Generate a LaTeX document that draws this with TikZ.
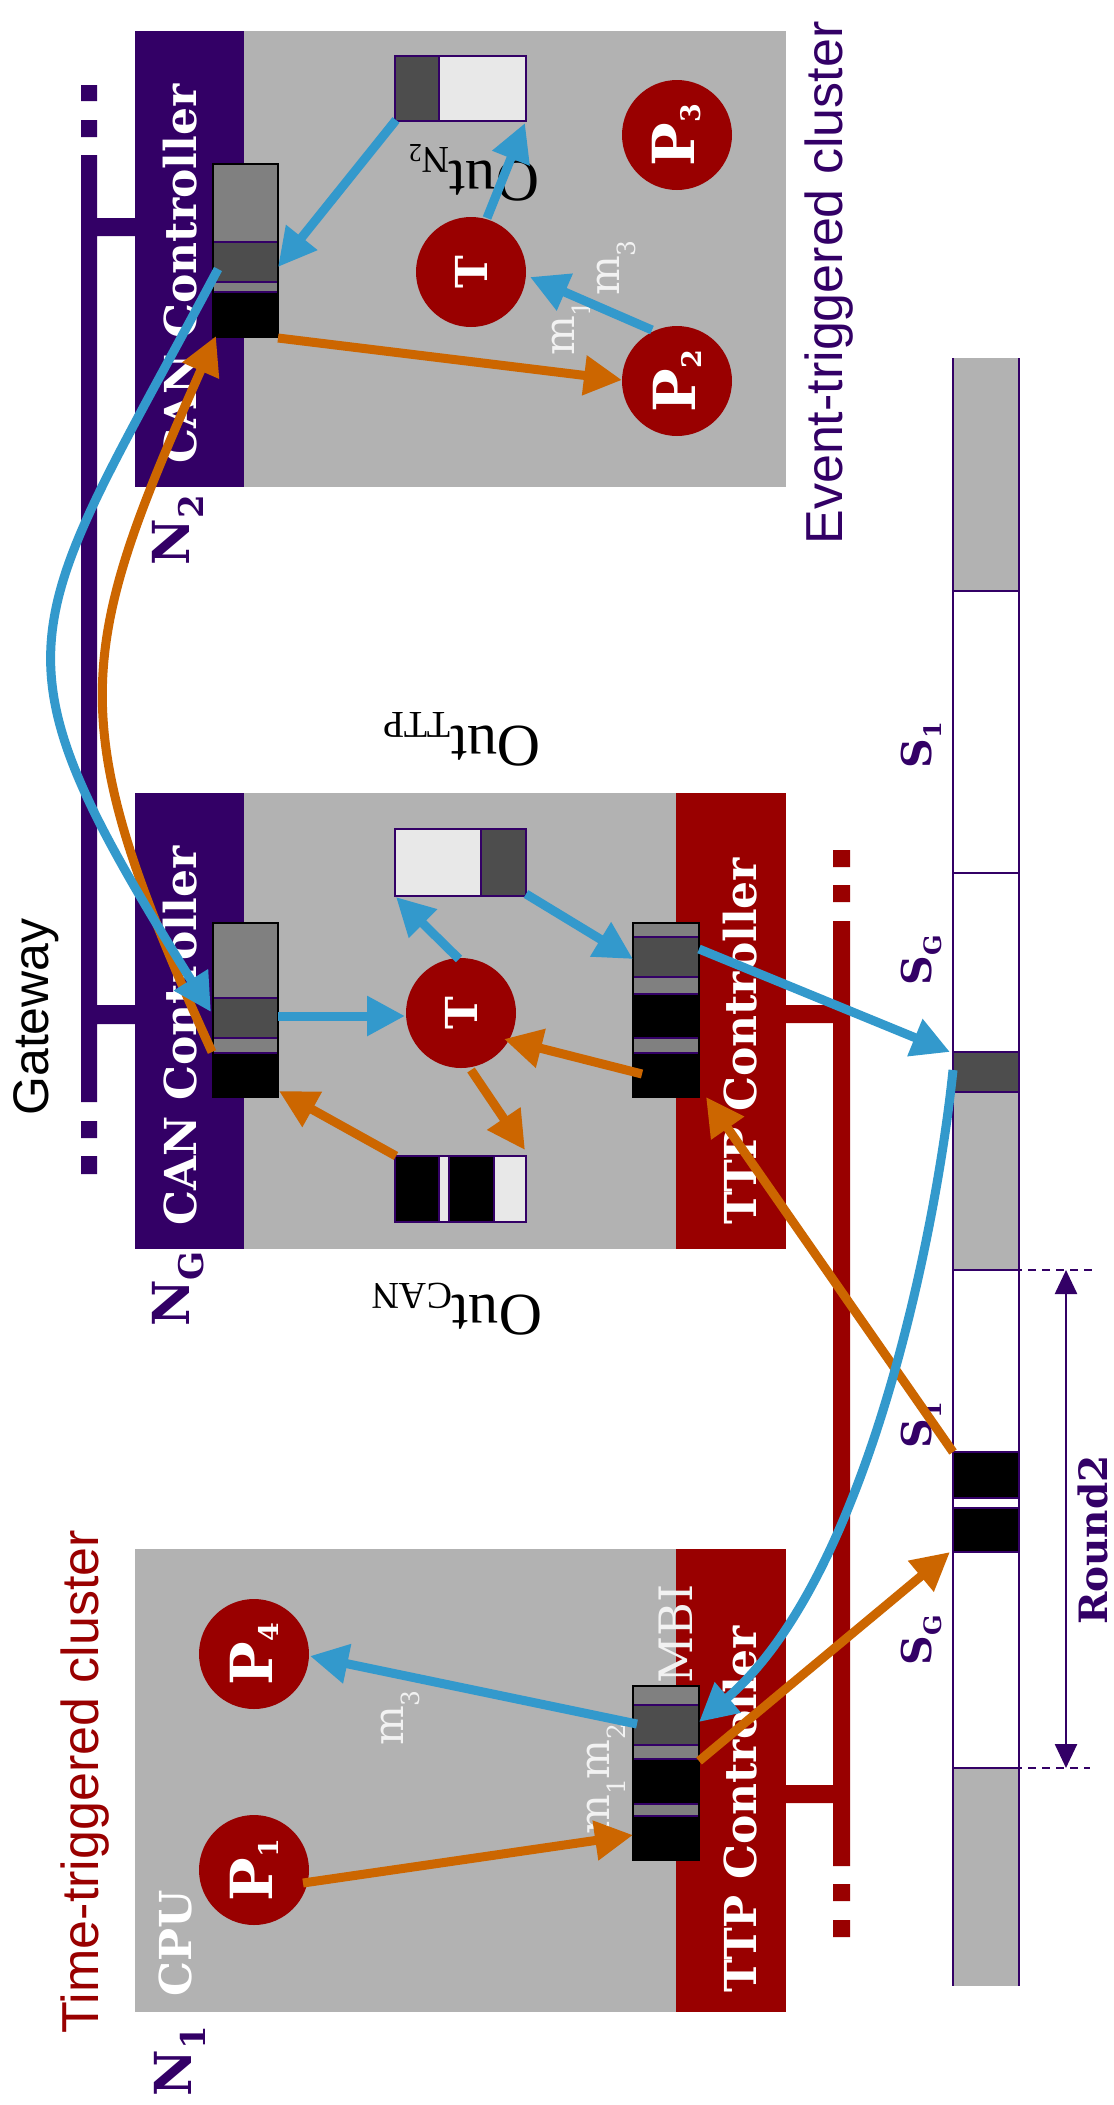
\documentclass[tikz,border=0pt]{standalone}
\usepackage{fontspec}
\setmainfont{DejaVu Serif}
\newfontfamily\lsans{Liberation Sans}
\newfontfamily\lserif{Liberation Serif}
\usetikzlibrary{arrows.meta}
\definecolor{pur}{HTML}{330066}
\definecolor{dred}{HTML}{990000}
\definecolor{ngray}{HTML}{B2B2B2}
\definecolor{ablue}{HTML}{3399CC}
\definecolor{aorange}{HTML}{CC6600}
\definecolor{mgray}{HTML}{808080}
\definecolor{dgray}{HTML}{4D4D4D}
\definecolor{lgray}{HTML}{E8E8E8}
\definecolor{wlab}{HTML}{F2F2F2}
\newcommand\fs[1]{\fontsize{#1}{#1}\selectfont}
\newcommand\lsub[3]{\raisebox{-#2pt}{\fs{#3}#1}}
\tikzset{
 ctrl/.style={rotate=90, text=white, font=\bfseries\fs{44}, inner sep=0pt},
 proc/.style={circle, fill=dred, minimum size=110pt, inner sep=0pt, text=white, rotate=90, font=\bfseries\fs{58}},
 tproc/.style={proc, font=\bfseries\fs{44}},
 nlab/.style={rotate=90, text=pur, font=\bfseries\fs{51}, inner sep=0pt},
 slab/.style={rotate=90, text=pur, font=\bfseries\fs{41}, inner sep=0pt},
 clus/.style={rotate=90, font=\lsans\fs{52}, inner sep=0pt},
 outlab/.style={rotate=180, font=\lserif\fs{60}, inner sep=0pt},
 mlab/.style={rotate=90, text=wlab, font=\fs{42}, inner sep=0pt},
 barrow/.style={draw=ablue, line width=9pt, -{Triangle[length=38pt,width=38pt]}},
 oarrow/.style={draw=aorange, line width=9pt, -{Triangle[length=38pt,width=38pt]}},
 segbox/.style={draw=pur, line width=1.5pt},
 outer/.style={draw=black, line width=2pt},
 sline/.style={draw=pur, line width=2pt},
}
\begin{document}
\begin{tikzpicture}[x=1pt,y=-1pt]
\useasboundingbox (0,0) rectangle (1114,2105);
\fill[white] (0,0) rectangle (1114,2105);

% ---------- buses ----------
\fill[pur] (81,85) rectangle (97,101) (81,120) rectangle (97,137) (81,155) rectangle (97,1102)
  (81,1121) rectangle (97,1138) (81,1156) rectangle (97,1174)
  (97,218) rectangle (135,236) (97,1005) rectangle (135,1024);
\fill[dred] (833,850) rectangle (850,867) (833,885) rectangle (850,902) (833,921) rectangle (850,1866)
  (833,1884) rectangle (850,1901) (833,1920) rectangle (850,1937)
  (786,1005) rectangle (833,1023) (786,1785) rectangle (833,1803);

% ---------- node N2 ----------
\node[fill=ngray, inner sep=0pt, minimum width=651pt, minimum height=456pt, anchor=north west] (N2box) at (135,31) {};
\fill[pur] (135,31) rectangle (244,487);
% ---------- node NG ----------
\node[fill=ngray, inner sep=0pt, minimum width=651pt, minimum height=456pt, anchor=north west] (NGbox) at (135,793) {};
\fill[pur] (135,793) rectangle (244,1249);
\fill[dred] (676,793) rectangle (786,1249);
% ---------- node N1 ----------
\node[fill=ngray, inner sep=0pt, minimum width=651pt, minimum height=463pt, anchor=north west] (N1box) at (135,1549) {};
\fill[dred] (676,1549) rectangle (786,2012);

% ---------- controller labels ----------
\node[ctrl] (can2) at (180,274) {CAN Controller};
\node[ctrl] (cang) at (180,1036) {CAN Controller};
\node[ctrl] (ttpg) at (740,1041) {TTP Controller};
\node[ctrl] (ttp1) at (740,1809) {TTP Controller};
\node[ctrl] (cpu) at (175,1943) {CPU};
\node[rotate=90, text=wlab, font=\fs{46}, inner sep=0pt] (mbi) at (676,1634) {MBI};

% ---------- buffers ----------
% N2 CAN buffer
\draw[segbox, fill=mgray] (213,164) rectangle (278,242);
\draw[segbox, fill=dgray] (213,242) rectangle (278,282);
\draw[segbox, fill=mgray] (213,282) rectangle (278,292);
\draw[segbox, fill=black] (213,292) rectangle (278,337);
\draw[outer] (213,164) rectangle (278,337);
% NG CAN buffer
\draw[segbox, fill=mgray] (213,923) rectangle (278,998);
\draw[segbox, fill=dgray] (213,998) rectangle (278,1038);
\draw[segbox, fill=mgray] (213,1038) rectangle (278,1053);
\draw[segbox, fill=black] (213,1053) rectangle (278,1097);
\draw[outer] (213,923) rectangle (278,1097);
% NG TTP buffer
\draw[segbox, fill=mgray] (633,923) rectangle (699,937);
\draw[segbox, fill=dgray] (633,937) rectangle (699,977);
\draw[segbox, fill=mgray] (633,977) rectangle (699,994);
\draw[segbox, fill=black] (633,994) rectangle (699,1038);
\draw[segbox, fill=mgray] (633,1038) rectangle (699,1053);
\draw[segbox, fill=black] (633,1053) rectangle (699,1097);
\draw[outer] (633,923) rectangle (699,1097);
% MBI buffer
\draw[segbox, fill=mgray] (633,1686) rectangle (699,1705);
\draw[segbox, fill=dgray] (633,1705) rectangle (699,1745);
\draw[segbox, fill=mgray] (633,1745) rectangle (699,1759);
\draw[segbox, fill=black] (633,1759) rectangle (699,1804);
\draw[segbox, fill=mgray] (633,1804) rectangle (699,1816);
\draw[segbox, fill=black] (633,1816) rectangle (699,1860);
\draw[outer] (633,1686) rectangle (699,1860);

% ---------- out boxes ----------
\draw[segbox, fill=dgray] (395,56) rectangle (439,121);
\draw[segbox, fill=lgray] (439,56) rectangle (526,121);
\draw[segbox, fill=lgray] (395,829) rectangle (481,896);
\draw[segbox, fill=dgray] (481,829) rectangle (526,896);
\draw[segbox, fill=black] (395,1156) rectangle (439,1222);
\draw[segbox, fill=lgray] (439,1156) rectangle (449,1222);
\draw[segbox, fill=black] (449,1156) rectangle (494,1222);
\draw[segbox, fill=lgray] (494,1156) rectangle (526,1222);

\node[outlab] (outn2lab) at (474,173) {Out\lsub{N\lsub{2}{3}{26}}{14}{38}};
\node[outlab] (outttplab) at (462,739) {Out\lsub{TTP}{14}{38}};
\node[outlab] (outcanlab) at (457,1309) {Out\lsub{CAN}{12}{38}};

% ---------- processes ----------
\node[proc] (P3) at (677,135) {P\lsub{3}{6}{27}};
\node[proc] (P2) at (677,381) {P\lsub{2}{6}{27}};
\node[tproc] (T2) at (471,272) {T};
\node[tproc] (TG) at (461,1013) {T};
\node[proc] (P4) at (254,1654) {P\lsub{4}{6}{27}};
\node[proc] (P1) at (254,1870) {P\lsub{1}{6}{27}};

% ---------- message labels ----------
\node[mlab] (m1a) at (571,328) {m\lsub{1}{16}{25}};
\node[mlab] (m3a) at (616,268) {m\lsub{3}{16}{25}};
\node[mlab] (m3b) at (400,1718) {m\lsub{3}{16}{25}};
\node[mlab] (m12) at (606,1779) {m\lsub{1}{16}{25}m\lsub{2}{16}{25}};

% ---------- node / cluster labels ----------
\node[nlab] (lN2) at (178,530) {N\lsub{2}{14}{34}};
\node[nlab] (lNG) at (178,1289) {N\lsub{G}{14}{34}};
\node[nlab] (lN1) at (180,2061) {N\lsub{1}{14}{34}};
\node[clus, text=dred] (ttc) at (85,1782) {Time-triggered cluster};
\node[clus, text=pur] (etc) at (829,283) {Event-triggered cluster};
\node[clus, text=black, font=\lsans\fs{50}] (gw) at (36,1017) {Gateway};

% ---------- schedule ----------
\fill[ngray] (953,358) rectangle (1019,591);
\fill[dgray] (953,1052) rectangle (1019,1092);
\fill[ngray] (953,1092) rectangle (1019,1270);
\fill[black] (953,1452) rectangle (1019,1498);
\fill[black] (953,1508) rectangle (1019,1552);
\fill[ngray] (953,1768) rectangle (1019,1986);
\draw[sline] (953,358) -- (953,1986) (1019,358) -- (1019,1986);
\foreach \yy in {591,873,1052,1092,1270,1452,1498,1508,1552,1768}
  \draw[sline] (953,\yy) -- (1019,\yy);
\node[slab] (s1a) at (921,745) {S\lsub{1}{10}{24}};
\node[slab] (sga) at (921,960) {S\lsub{G}{10}{24}};
\node[slab] (s1b) at (921,1425) {S\lsub{1}{10}{24}};
\node[slab] (sgb) at (921,1640) {S\lsub{G}{10}{24}};
\coordinate (rtop) at (1066,1270);
\coordinate (rbot) at (1066,1768);
\draw[pur, line width=2pt, dash pattern=on 8pt off 6pt] (1000,1270) -- (1097,1270) (1000,1768) -- (1090,1768);
\draw[pur, line width=2.5pt, {Triangle[length=24pt,width=22pt]}-{Triangle[length=24pt,width=22pt]}] (rtop) -- (rbot);
\node[slab, font=\bfseries\fs{39}] (round) at (1093,1540) {Round2};

% ---------- connector end points ----------
\coordinate (outn2-sw) at (396,120);
\coordinate (outn2-se) at (525,123);
\coordinate (n2buf-e) at (278,267);
\coordinate (n2buf-se) at (278,338);
\coordinate (n2buf-w) at (218,269);
\coordinate (n2buf-sw) at (216,336);
\coordinate (T2-n) at (487,218);
\coordinate (T2-e) at (530,277);
\coordinate (P2-w) at (622,380);
\coordinate (P2-nw) at (652,330);
\coordinate (ngcan-w) at (211,1012);
\coordinate (ngcan-sw) at (212,1052);
\coordinate (ngcan-e) at (278,1016);
\coordinate (ngcan-se) at (279,1091);
\coordinate (TG-w) at (405,1016);
\coordinate (TG-n) at (459,959);
\coordinate (TG-s) at (471,1070);
\coordinate (TG-se) at (504,1039);
\coordinate (outttp-sw) at (396,897);
\coordinate (outttp-se) at (526,894);
\coordinate (outcan-ne) at (525,1150);
\coordinate (outcan-nw) at (396,1156);
\coordinate (ngttp-w) at (633,959);
\coordinate (ngttp-e) at (699,949);
\coordinate (ngttp-b) at (642,1074);
\coordinate (ngttp-se) at (706,1097);
\coordinate (sched-dk) at (950,1052);
\coordinate (sched-dkw) at (953,1070);
\coordinate (sched-s1) at (953,1452);
\coordinate (sched-sg) at (950,1552);
\coordinate (mbi-e) at (699,1722);
\coordinate (mbi-e2) at (699,1761);
\coordinate (mbi-w) at (633,1835);
\coordinate (mbi-w2) at (637,1724);
\coordinate (P1-e) at (303,1883);
\coordinate (P4-e) at (310,1656);

% ---------- connectors ----------
\draw[barrow] (outn2-sw) -- (n2buf-e);
\draw[barrow] (T2-n) -- (outn2-se);
\draw[oarrow] (n2buf-se) -- (P2-w);
\draw[barrow] (P2-nw) -- (T2-e);

\draw[oarrow] (ngcan-sw) .. controls (61,721) and (74,656) .. (n2buf-sw);
\draw[barrow] (n2buf-w) .. controls (21,639) and (-20,642) .. (ngcan-w);

\draw[barrow] (ngcan-e) -- (TG-w);
\draw[barrow] (TG-n) -- (outttp-sw);
\draw[barrow] (outttp-se) -- (ngttp-w);
\draw[barrow] (ngttp-e) -- (sched-dk);
\draw[oarrow] (ngttp-b) -- (TG-se);
\draw[oarrow] (TG-s) -- (outcan-ne);
\draw[oarrow] (outcan-nw) -- (ngcan-se);

\draw[oarrow] (sched-s1) -- (ngttp-se);
\draw[barrow] (sched-dkw) .. controls (938,1217) and (871,1575) .. (mbi-e);
\draw[oarrow] (mbi-e2) -- (sched-sg);
\draw[oarrow] (P1-e) -- (mbi-w);
\draw[barrow] (mbi-w2) -- (P4-e);
\end{tikzpicture}
\end{document}
